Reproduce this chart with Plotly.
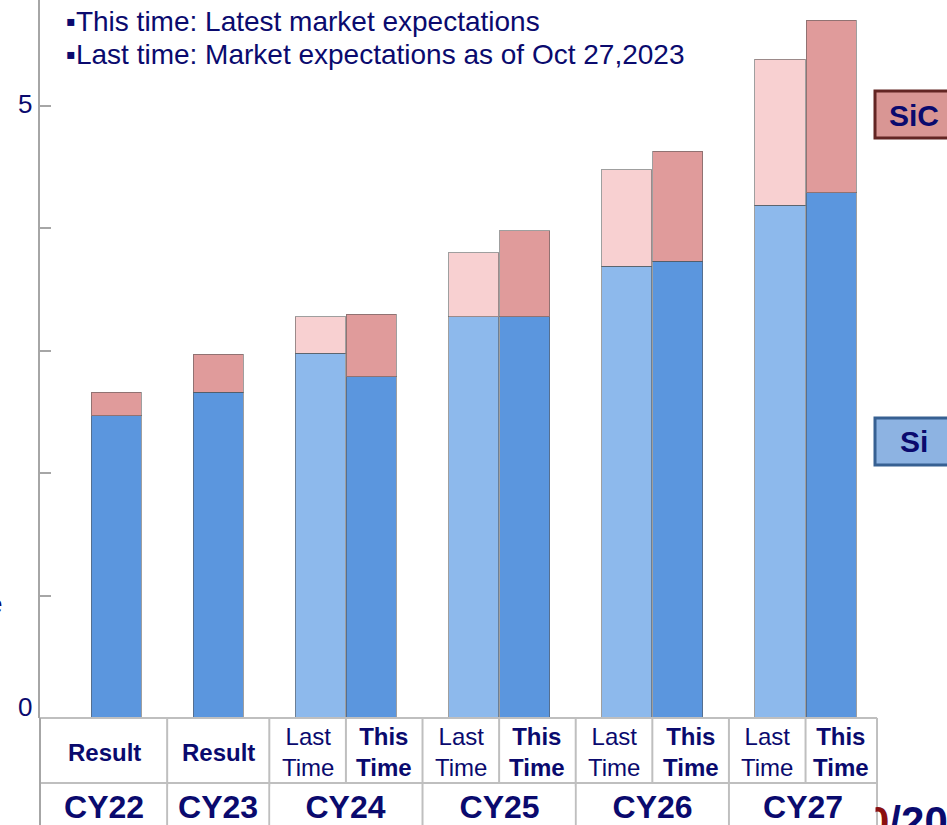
import plotly.graph_objects as go

# ---- data -------------------------------------------------------------
years = ["CY22", "CY23", "CY24", "CY25", "CY26", "CY27"]
bar_kinds = [["Result"], ["Result"], ["Last", "This"], ["Last", "This"],
             ["Last", "This"], ["Last", "This"]]
si_values = [2.47, 2.66, 2.98, 2.79, 3.28, 3.28, 3.69, 3.73, 4.19, 4.29]
sic_values = [0.19, 0.31, 0.30, 0.51, 0.52, 0.70, 0.79, 0.90, 1.19, 1.41]
y_tick_labels = {0: "0", 5: "5"}
note_lines = ["\u25aaThis time: Latest market expectations",
              "\u25aaLast time: Market expectations as of Oct 27,2023"]

# ---- style ------------------------------------------------------------
NAVY = "#0A0A6E"
FONT = "Arial, Liberation Sans, sans-serif"
SI_DARK, SI_LIGHT = "#5B96DE", "#8DB9EC"
SIC_DARK, SIC_LIGHT = "#E09B9B", "#F8D0D1"
GRID_GRAY = "#BFBFBF"
AXIS_GRAY = "#A6A6A6"

W, H = 947, 825
ML, MB = 40, 107
PW, PH = W - ML, H - MB


def px_x(px):
    return (px - ML) / PW


def px_y(py):
    return (PH - py) / PH


# slot positions: bars of a year sit side by side, one empty slot between years
slots, kinds, group_span = [], [], []
pos = 0
for yr, ks in zip(years, bar_kinds):
    start = pos
    for k in ks:
        slots.append(pos)
        kinds.append(k)
        pos += 1
    group_span.append((start, pos - 1))
    pos += 1

si_colors = [SI_LIGHT if k == "Last" else SI_DARK for k in kinds]
sic_colors = [SIC_LIGHT if k == "Last" else SIC_DARK for k in kinds]
edge = dict(color="rgba(80,80,80,0.55)", width=1)

fig = go.Figure()
fig.add_trace(go.Bar(x=slots, y=si_values, width=0.98, name="Si",
                     marker=dict(color=si_colors, line=edge), hoverinfo="skip"))
fig.add_trace(go.Bar(x=slots, y=sic_values, width=0.98, name="SiC",
                     marker=dict(color=sic_colors, line=edge), hoverinfo="skip"))

X_LEFT, X_RIGHT = -1.49, 16.27
TABLE_L, TABLE_R = -1.47, 14.9
ROW1_Y = px_y(783)
BOTTOM_Y = px_y(H)

# column edges of the table (in slot units)
year_edges = [TABLE_L] + [a - 1 for (a, b) in group_span[1:]] + [TABLE_R]
cells = []  # (x_left, x_right, kind) for the top row
for i, (a, b) in enumerate(group_span):
    xl, xr = year_edges[i], year_edges[i + 1]
    if b > a:
        mid = (a + b) / 2
        cells.append((xl, mid, kinds[slots.index(a)]))
        cells.append((mid, xr, kinds[slots.index(b)]))
    else:
        cells.append((xl, xr, kinds[slots.index(a)]))

shapes = []
# baseline / top of the table, and the row divider
shapes.append(dict(type="line", xref="x", yref="paper", x0=X_LEFT, x1=TABLE_R,
                   y0=0, y1=0, line=dict(color=GRID_GRAY, width=2)))
shapes.append(dict(type="line", xref="x", yref="paper", x0=TABLE_L, x1=TABLE_R,
                   y0=ROW1_Y, y1=ROW1_Y, line=dict(color=GRID_GRAY, width=2)))
# axis line continues down the left side of the table
shapes.append(dict(type="line", xref="paper", yref="paper", x0=0, x1=0,
                   y0=0, y1=BOTTOM_Y, line=dict(color=AXIS_GRAY, width=2)))
for xe in year_edges[1:]:
    shapes.append(dict(type="line", xref="x", yref="paper", x0=xe, x1=xe,
                       y0=0, y1=BOTTOM_Y, line=dict(color=GRID_GRAY, width=2)))
for (a, b) in group_span:
    if b > a:
        xe = (a + b) / 2
        shapes.append(dict(type="line", xref="x", yref="paper", x0=xe, x1=xe,
                           y0=0, y1=ROW1_Y, line=dict(color=GRID_GRAY, width=2)))

# legend boxes on the right
shapes.append(dict(type="rect", xref="paper", yref="paper", x0=px_x(875), x1=px_x(965),
                   y0=px_y(138), y1=px_y(91), fillcolor="#D99694",
                   line=dict(color="#632523", width=3)))
shapes.append(dict(type="rect", xref="paper", yref="paper", x0=px_x(875), x1=px_x(965),
                   y0=px_y(465), y1=px_y(418), fillcolor="#8DB3E2",
                   line=dict(color="#376092", width=3)))

ann = []
for i, line in enumerate(note_lines):
    ann.append(dict(text=line, xref="paper", yref="paper", x=px_x(64), y=px_y(21 + 34 * i),
                    xanchor="left", yanchor="middle", showarrow=False,
                    font=dict(family=FONT, size=28, color=NAVY)))
for v, t in y_tick_labels.items():
    ann.append(dict(text=t, xref="paper", yref="y", x=px_x(34),
                    y=v + (0.09 if v == 0 else 0.015), xanchor="right", yanchor="middle",
                    showarrow=False, font=dict(family=FONT, size=26, color=NAVY)))
# clipped fragment of the axis title at the far left
ann.append(dict(text="e", xref="paper", yref="paper", x=px_x(4), y=px_y(604),
                xanchor="right", yanchor="middle", showarrow=False,
                font=dict(family=FONT, size=26, color=NAVY)))
ann.append(dict(text="<b>SiC</b>", xref="paper", yref="paper", x=px_x(914), y=px_y(115),
                xanchor="center", yanchor="middle", showarrow=False,
                font=dict(family=FONT, size=30, color=NAVY)))
ann.append(dict(text="<b>Si</b>", xref="paper", yref="paper", x=px_x(914), y=px_y(441),
                xanchor="center", yanchor="middle", showarrow=False,
                font=dict(family=FONT, size=30, color=NAVY)))
# page number, partly hidden behind the table
ann.append(dict(text="<b><span style='color:#8B1010'>0</span>/20</b>", xref="paper",
                yref="paper", x=px_x(864), y=px_y(821), xanchor="left", yanchor="middle",
                showarrow=False, font=dict(family=FONT, size=42, color=NAVY)))

# top row of the table: bar descriptions, centred in their cells
for xl, xr, k in cells:
    if k == "Result":
        txt = "<b>Result</b>"
    elif k == "This":
        txt = "<b>This<br>Time</b>"
    else:
        txt = "Last<br>Time"
    ann.append(dict(text=txt, x=(xl + xr) / 2, xref="x", yref="paper", y=px_y(752),
                    xanchor="center", yanchor="middle", showarrow=False,
                    font=dict(family=FONT, size=24, color=NAVY)))
# bottom row: years, each cell drawn with a white background
for i, yr in enumerate(years):
    x_l, x_r = year_edges[i], year_edges[i + 1]
    cell_w = (x_r - x_l) * PW / (X_RIGHT - X_LEFT) - 6
    ann.append(dict(text=f"<b>{yr}</b>", x=(x_l + x_r) / 2, xref="x", yref="paper",
                    y=px_y(807), xanchor="center", yanchor="middle", showarrow=False,
                    width=cell_w, height=38, bgcolor="white",
                    font=dict(family=FONT, size=32, color=NAVY)))

fig.update_layout(
    width=W, height=H, barmode="stack", showlegend=False,
    margin=dict(l=ML, r=0, t=0, b=MB, pad=0),
    paper_bgcolor="white", plot_bgcolor="white",
    xaxis=dict(range=[X_LEFT, X_RIGHT], showgrid=False, zeroline=False,
               showline=False, showticklabels=False, fixedrange=True),
    yaxis=dict(range=[0, PH / 122.4], showgrid=False, zeroline=False,
               showline=True, linecolor=AXIS_GRAY, linewidth=2,
               ticks="inside", ticklen=11, tickwidth=2, tickcolor=AXIS_GRAY,
               tickvals=list(range(6)), showticklabels=False, fixedrange=True),
    shapes=shapes, annotations=ann,
)

fig.write_html("out.html")
